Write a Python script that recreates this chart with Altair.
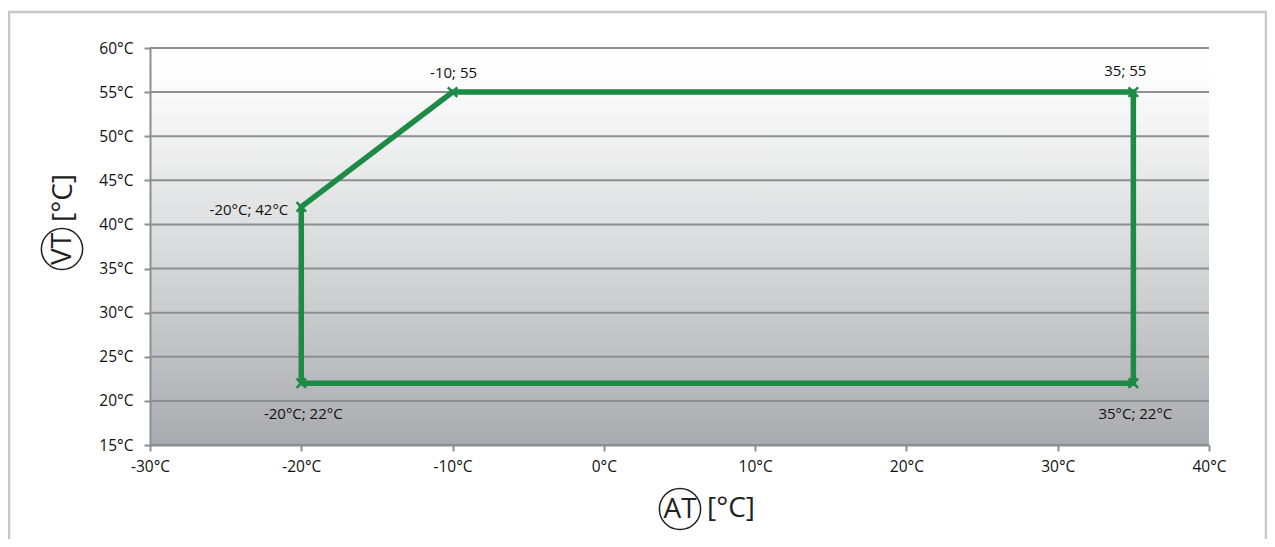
import altair as alt
import pandas as pd

# ---- data ----
path_at = [-20, -20, -10, 35, 35, -20]
path_vt = [22, 42, 55, 55, 22, 22]
path_order = [0, 1, 2, 3, 4, 5]

pt_at = [-20, -20, -10, 35, 35]
pt_vt = [22, 42, 55, 55, 22]
pt_label = ["-20°C; 22°C", "-20°C; 42°C", "-10; 55", "35; 55", "35°C; 22°C"]
pt_side = ["below", "left", "above", "above_left", "below"]

y_ticks = [15, 20, 25, 30, 35, 40, 45, 50, 55, 60]
x_ticks = [-30, -20, -10, 0, 10, 20, 30, 40]

W, H = 1059, 397
GREEN = "#1d8a45"
GRID = "#8d8e92"
FONT = "Open Sans"
TXT = "#111111"

path_df = pd.DataFrame({"at": path_at, "vt": path_vt, "o": path_order})
pt_df = pd.DataFrame({"at": pt_at, "vt": pt_vt, "label": pt_label, "side": pt_side})
grid_df = pd.DataFrame({"vt": y_ticks})
one = pd.DataFrame({"a": [0]})

xscale = alt.Scale(domain=[-30, 40], nice=False, zero=False)
yscale = alt.Scale(domain=[15, 60], nice=False, zero=False)

x_axis = alt.Axis(values=x_ticks, labelExpr="datum.value + '°C'", grid=False,
                  domainColor=GRID, domainWidth=2, tickColor=GRID, tickWidth=2,
                  tickSize=6, labelPadding=8, labelFont=FONT, labelFontSize=15.5,
                  labelColor=TXT, title=None, zindex=1, labelFlush=False,
                  labelOverlap=False)
y_axis = alt.Axis(values=y_ticks, labelExpr="datum.value + '°C'", grid=False,
                  domainColor=GRID, domainWidth=2, tickColor=GRID, tickWidth=2,
                  tickSize=6, labelPadding=11, labelFont=FONT, labelFontSize=15.5,
                  labelColor=TXT, title=None, zindex=1, labelFlush=False,
                  labelOverlap=False)

X = alt.X("at:Q", scale=xscale, axis=x_axis)
Y = alt.Y("vt:Q", scale=yscale, axis=y_axis)

gradient = alt.LinearGradient(
    gradient="linear", x1=0, x2=0, y1=0, y2=1,
    stops=[alt.GradientStop(offset=0, color="#ffffff"),
           alt.GradientStop(offset=0.1, color="#fbfbfb"),
           alt.GradientStop(offset=0.5, color="#dadbdc"),
           alt.GradientStop(offset=1, color="#a8aaae")])

bg = alt.Chart(one).mark_rect(color=gradient).encode(
    x=alt.value(0), x2=alt.value(W), y=alt.value(0), y2=alt.value(H))

frame = alt.Chart(one).mark_rect(fillOpacity=0, stroke="#c8c8c8", strokeWidth=2.5).encode(
    x=alt.value(-141), x2=alt.value(1116), y=alt.value(-36), y2=alt.value(560))

grid = alt.Chart(grid_df).mark_rule(color=GRID, strokeWidth=2).encode(
    y=Y, x=alt.value(0), x2=alt.value(W))

line = alt.Chart(path_df).mark_line(color=GREEN, strokeWidth=5.5).encode(
    x=X, y=Y, order="o:Q")

marks = alt.Chart(pt_df).mark_point(
    shape="M-1,-1L1,1M-1,1L1,-1", size=90, color=GREEN, strokeWidth=2.5, filled=False, opacity=1
).encode(x=X, y=Y)

txt = dict(font=FONT, fontSize=15, color=TXT)
lab_above = alt.Chart(pt_df).transform_filter("datum.side == 'above'").mark_text(
    dy=-19, dx=1, **txt).encode(x=X, y=Y, text="label:N")
lab_above_l = alt.Chart(pt_df).transform_filter("datum.side == 'above_left'").mark_text(
    dy=-21, dx=-8, **txt).encode(x=X, y=Y, text="label:N")
lab_left = alt.Chart(pt_df).transform_filter("datum.side == 'left'").mark_text(
    align="right", dx=-13, dy=3, **txt).encode(x=X, y=Y, text="label:N")
lab_below = alt.Chart(pt_df).transform_filter("datum.side == 'below'").mark_text(
    dy=31, dx=2, **txt).encode(x=X, y=Y, text="label:N")

# axis titles: circled letters + unit
ttl = dict(font=FONT, fontSize=28, color="#222")
at_circle = alt.Chart(one).mark_point(shape="circle", size=1700, filled=False,
                                      color="#222", strokeWidth=1.5, opacity=1).encode(
    x=alt.value(530), y=alt.value(461))
at_text = alt.Chart(one).mark_text(align="center", baseline="middle", **ttl).encode(
    x=alt.value(530), y=alt.value(462), text=alt.value("AT"))
at_unit = alt.Chart(one).mark_text(align="left", baseline="middle", **ttl).encode(
    x=alt.value(557), y=alt.value(461), text=alt.value("[°C]"))

vt_circle = alt.Chart(one).mark_point(shape="circle", size=1700, filled=False,
                                      color="#222", strokeWidth=1.5, opacity=1).encode(
    x=alt.value(-88), y=alt.value(201))
vt_text = alt.Chart(one).mark_text(align="center", baseline="middle", angle=270, **ttl).encode(
    x=alt.value(-87), y=alt.value(201), text=alt.value("VT"))
vt_unit = alt.Chart(one).mark_text(align="left", baseline="middle", angle=270, **ttl).encode(
    x=alt.value(-86), y=alt.value(174), text=alt.value("[°C]"))

chart = alt.layer(
    bg, frame, grid, line, marks, lab_above, lab_above_l, lab_left, lab_below,
    at_circle, at_text, at_unit, vt_circle, vt_text, vt_unit
).properties(
    width=W, height=H,
    padding={"left": 142, "top": 40, "right": 58, "bottom": 94},
    autosize=alt.AutoSizeParams(type="none"),
    background="white",
).configure_view(strokeWidth=0)

chart.save("out.html", embed_options={"renderer": "svg", "actions": False})
